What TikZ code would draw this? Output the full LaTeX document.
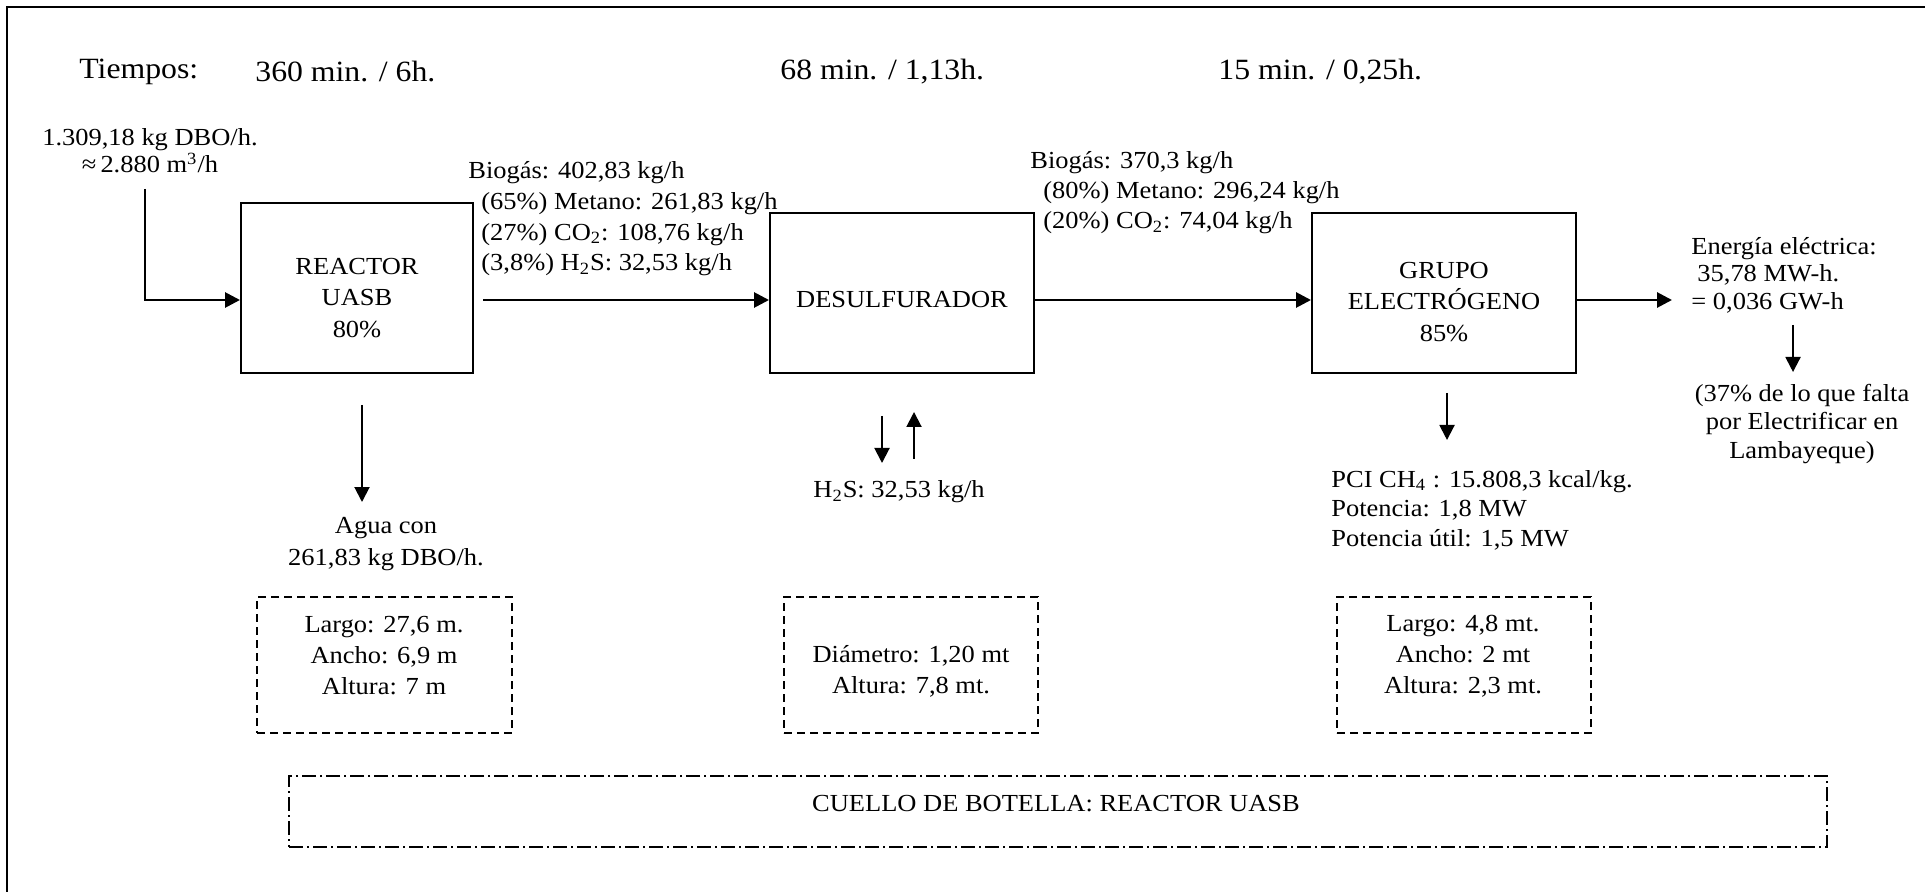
\documentclass[tikz,border=0pt]{standalone}
\usepackage{fontspec}
\setmainfont[FakeStretch=1.08]{Liberation Serif}
\usetikzlibrary{arrows.meta}
\tikzset{
  txt/.style={inner sep=0pt, font=\fontsize{12.25}{#1}\selectfont, align=left},
  ctxt/.style={inner sep=0pt, font=\fontsize{12.25}{#1}\selectfont, align=center},
  bigtxt/.style={inner sep=0pt, font=\fontsize{14.7}{17}\selectfont},
  procbox/.style={draw, line width=1pt, inner sep=0pt},
  harr/.style={line width=1.4pt, -{Triangle[length=7.5pt,width=7.5pt]}},
  varr/.style={line width=1pt, -{Triangle[length=7.5pt,width=7.5pt]}},
  dimbox/.style={draw, line width=0.8pt, dash pattern=on 4pt off 2.5pt, inner sep=0pt},
  notebox/.style={draw, line width=0.8pt, dash pattern=on 7pt off 2pt on 1pt off 2pt, inner sep=0pt},
}
\begin{document}
\begin{tikzpicture}[x=0.5pt,y=-0.5pt]
\useasboundingbox (0,0) rectangle (1925,892);
% outer frame
\draw[line width=1.2pt] (7,892) -- (7,7) -- (1925,7);

% time row
\node[bigtxt, anchor=west] (tiempos) at (79,72) {Tiempos:};
\node[bigtxt, anchor=west] (t1) at (255,72) {360 min. / 6h.};
\node[bigtxt, anchor=west] (t2) at (780,72) {68 min. / 1,13h.};
\node[bigtxt, anchor=west] (t3) at (1218,72) {15 min. / 0,25h.};

% process boxes
\node[procbox, minimum width=116pt, minimum height=85pt] (reactor) at (357,288) {};
\node[ctxt=15.6pt] (reactortxt) at (357,298) {REACTOR\\UASB\\80\%};
\node[procbox, minimum width=132pt, minimum height=80pt] (desulf) at (902,293) {};
\node[ctxt=15pt] (desulftxt) at (902,300) {DESULFURADOR};
\node[procbox, minimum width=132pt, minimum height=80pt] (grupo) at (1444,293) {};
\node[ctxt=15.6pt] (grupotxt) at (1444,302) {GRUPO\\ELECTRÓGENO\\85\%};

% labels
\node[ctxt=13.5pt] (input) at (150,151) {1.309,18 kg DBO/h.\\≈\,2.880 m\textsuperscript{3}/h};
\node[txt=15.35pt, anchor=west] (bio1) at (468,219) {Biogás: 402,83 kg/h\\
\hspace*{6.5pt}(65\%) Metano: 261,83 kg/h\\
\hspace*{6.5pt}(27\%) CO\textsubscript{2}: 108,76 kg/h\\
\hspace*{6.5pt}(3,8\%) H\textsubscript{2}S: 32,53 kg/h};
\node[txt=15pt, anchor=west] (bio2) at (1030,193) {Biogás: 370,3 kg/h\\
\hspace*{6.5pt}(80\%) Metano: 296,24 kg/h\\
\hspace*{6.5pt}(20\%) CO\textsubscript{2}: 74,04 kg/h};
\node[txt=13.75pt, anchor=west] (energy) at (1691,275) {Energía eléctrica:\\
\hspace*{3pt}35,78 MW-h.\\
= 0,036 GW-h};
\node[ctxt=14.25pt] (pct) at (1802,424) {(37\% de lo que falta\\por Electrificar en\\Lambayeque)};
\node[txt=14.75pt, anchor=west] (pci) at (1331,510) {PCI CH\textsubscript{4} : 15.808,3 kcal/kg.\\
Potencia: 1,8 MW\\
Potencia útil: 1,5 MW};
\node[txt=15pt, anchor=west] (hs) at (813,492) {H\textsubscript{2}S: 32,53 kg/h};
\node[ctxt=16pt] (agua) at (386,544) {Agua con\\261,83 kg DBO/h.};

% dimension boxes
\node[dimbox, minimum width=127.5pt, minimum height=68pt] (dim1) at (384.5,665) {};
\node[ctxt=15.5pt] (dim1txt) at (384,656) {Largo: 27,6 m.\\Ancho: 6,9 m\\Altura: 7 m};
\node[dimbox, minimum width=127pt, minimum height=68pt] (dim2) at (911,665) {};
\node[ctxt=15.5pt] (dim2txt) at (911,671) {Diámetro: 1,20 mt\\Altura: 7,8 mt.};
\node[dimbox, minimum width=127pt, minimum height=68pt] (dim3) at (1464,665) {};
\node[ctxt=15.5pt] (dim3txt) at (1463,656) {Largo: 4,8 mt.\\Ancho: 2 mt\\Altura: 2,3 mt.};

% note box
\node[notebox, minimum width=769pt, minimum height=35.5pt] (note) at (1058,811.5) {};
\node[ctxt=15pt] (notetxt) at (1056,804) {CUELLO DE BOTELLA: REACTOR UASB};

% connectors
\coordinate (yline) at (0,300);
\coordinate (inp) at (145,189);
\draw[line width=1pt] (inp) -- (inp |- yline);
\draw[harr] ([xshift=-0.5pt]inp |- yline) -- (reactor.west |- yline);
\draw[harr, shorten <=4.5pt] (reactor.east |- yline) -- (desulf.west |- yline);
\draw[harr] (desulf.east |- yline) -- (grupo.west |- yline);
\draw[harr, shorten >=9.5pt] (grupo.east |- yline) -- (energy.west |- yline);

\coordinate (rd1) at (362,405);
\coordinate (rd2) at (362,502);
\draw[varr] (rd1) -- (rd2);
\coordinate (dd1) at (882,416);
\coordinate (dd2) at (882,463);
\draw[varr] (dd1) -- (dd2);
\coordinate (du1) at (914,459);
\coordinate (du2) at (914,412);
\draw[varr] (du1) -- (du2);
\coordinate (gd1) at (1447,393);
\coordinate (gd2) at (1447,440);
\draw[varr] (gd1) -- (gd2);
\coordinate (ed1) at (1793,325);
\coordinate (ed2) at (1793,372);
\draw[varr] (ed1) -- (ed2);
\end{tikzpicture}
\end{document}
